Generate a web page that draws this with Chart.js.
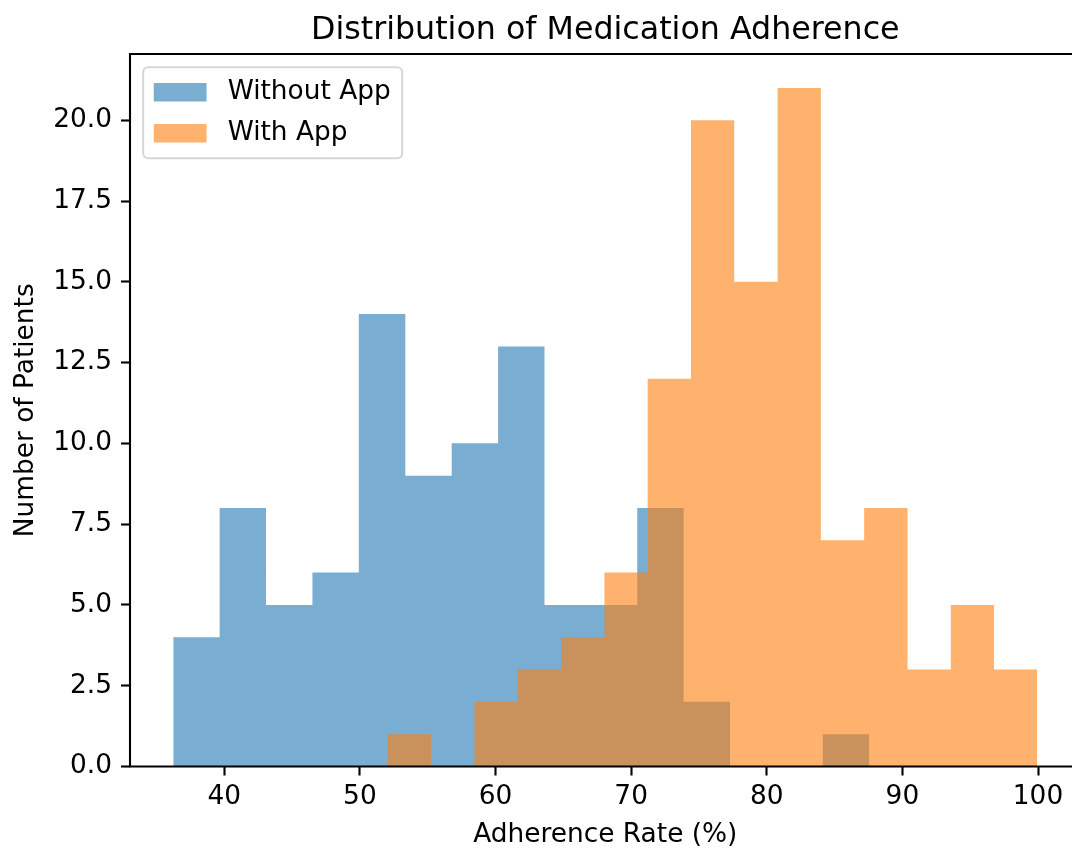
<!DOCTYPE html>
<html>
<head>
<meta charset="utf-8">
<title>Distribution of Medication Adherence</title>
<script src="https://cdn.jsdelivr.net/npm/chart.js@4.4.1/dist/chart.umd.min.js"></script>
<style>
  html, body { margin: 0; padding: 0; background: #ffffff; overflow: hidden; width: 1072px; height: 849px; }
  #wrap { width: 1072px; height: 849px; overflow: hidden; position: relative; }
  #hist { position: absolute; left: 0; top: 0; }
</style>
</head>
<body>
<div id="wrap"><canvas id="hist" width="1100" height="849"></canvas></div>
<script>
// Series labels
const seriesLabels = ["Without App", "With App"];

// Bin edges (adherence %) and counts per bin
const withoutEdges = [36.24, 39.66, 43.08, 46.50, 49.92, 53.35, 56.77, 60.19, 63.61, 67.03, 70.45, 73.87, 77.29, 80.71, 84.13, 87.56];
const withoutCounts = [4, 8, 5, 6, 14, 9, 10, 13, 5, 5, 8, 2, 0, 0, 1];

const withEdges = [52.06, 55.25, 58.45, 61.64, 64.83, 68.03, 71.22, 74.41, 77.60, 80.80, 83.99, 87.18, 90.38, 93.57, 96.76, 99.95];
const withCounts = [1, 0, 2, 3, 4, 6, 12, 20, 15, 21, 7, 8, 3, 5, 3];

// Tick labels
const xTicks = [40, 50, 60, 70, 80, 90, 100];
const yTicks = [0, 2.5, 5, 7.5, 10, 12.5, 15, 17.5, 20];

// Axis limits
const xMin = 33.05;
const xMax = 103.14;
const yMin = 0;
const yMax = 22.05;

const FONT = "'DejaVu Sans', 'Liberation Sans', sans-serif";

//Turn edges + counts into a step outline that the line element fills down to zero
function histPoints(edges, counts) {
  const pts = [{ x: edges[0], y: 0 }];
  counts.forEach((c, i) => {
    pts.push({ x: edges[i], y: c });
  });
  pts.push({ x: edges[edges.length - 1], y: counts[counts.length - 1] });
  pts.push({ x: edges[edges.length - 1], y: 0 });
  return pts;
}

//Title, spines and legend drawn the matplotlib way
const mplLook = {
  id: "mplLook",
  afterDatasetsDraw(chart) {
    const { ctx, chartArea: a } = chart;
    ctx.save();
    ctx.strokeStyle = "#000000";
    ctx.lineWidth = 2.1;
    ctx.beginPath();
    ctx.rect(a.left, a.top, a.right - a.left, a.bottom - a.top);
    ctx.stroke();
    ctx.restore();
  },
  afterDraw(chart) {
    const { ctx, chartArea: a } = chart;
    ctx.save();
    // title
    ctx.fillStyle = "#000000";
    ctx.font = "31.7px " + FONT;
    ctx.textAlign = "center";
    ctx.textBaseline = "alphabetic";
    ctx.fillText("Distribution of Medication Adherence", (a.left + a.right) / 2, 39);

    // legend
    const fs = 26.4;
    const pad = 0.4 * fs;
    const x0 = a.left + 0.5 * fs;
    const y0 = a.top + 0.5 * fs;
    const rowPitch = 41;
    const boxW = 259;
    const boxH = pad * 2 + rowPitch + 29;
    ctx.beginPath();
    ctx.roundRect(x0, y0, boxW, boxH, 5);
    ctx.fillStyle = "rgba(255,255,255,0.8)";
    ctx.fill();
    ctx.strokeStyle = "#d6d6d6";
    ctx.lineWidth = 2;
    ctx.stroke();
    ctx.font = fs + "px " + FONT;
    ctx.textAlign = "left";
    ctx.textBaseline = "middle";
    chart.data.datasets.forEach((ds, i) => {
      const cy = y0 + pad + 14.5 + i * rowPitch;
      ctx.fillStyle = ds.backgroundColor;
      ctx.fillRect(x0 + pad, cy - 9.25, 2 * fs, 0.7 * fs);
      ctx.fillStyle = "#000000";
      ctx.fillText(ds.label, x0 + pad + 2 * fs + 0.8 * fs, cy);
    });
    ctx.restore();
  }
};

const ctx = document.getElementById("hist");
new Chart(ctx, {
  type: "line",
  plugins: [mplLook],
  data: {
    datasets: [
      {
        label: seriesLabels[0],
        data: histPoints(withoutEdges, withoutCounts),
        backgroundColor: "rgba(31,119,180,0.6)",
        borderColor: "transparent",
        borderWidth: 0,
        stepped: true,
        fill: "origin",
        pointRadius: 0,
        pointHoverRadius: 0,
        order: 2
      },
      {
        label: seriesLabels[1],
        data: histPoints(withEdges, withCounts),
        backgroundColor: "rgba(255,127,14,0.6)",
        borderColor: "transparent",
        borderWidth: 0,
        stepped: true,
        fill: "origin",
        pointRadius: 0,
        pointHoverRadius: 0,
        order: 1
      }
    ]
  },
  options: {
    responsive: false,
    animation: false,
    devicePixelRatio: 1,
    events: [],
    layout: { padding: { left: 0, top: 54, right: 19.4, bottom: 0 } },
    plugins: {
      legend: { display: false },
      title: { display: false },
      tooltip: { enabled: false }
    },
    scales: {
      x: {
        type: "linear",
        min: xMin,
        max: xMax,
        afterBuildTicks: (scale) => { scale.ticks = xTicks.map((v) => ({ value: v })); },
        afterFit: (scale) => { scale.height = 82.5; },
        border: { display: false },
        grid: {
          drawOnChartArea: false,
          drawTicks: true,
          tickLength: 9,
          tickWidth: 2.1,
          tickColor: "#000000"
        },
        ticks: {
          autoSkip: false,
          maxRotation: 0,
          padding: 6,
          color: "#000000",
          font: { family: FONT, size: 26.4 },
          callback: (v) => String(v)
        },
        title: {
          display: true,
          text: "Adherence Rate (%)",
          color: "#000000",
          font: { family: FONT, size: 26.4 },
          padding: { top: 0, bottom: -2 }
        }
      },
      y: {
        type: "linear",
        min: yMin,
        max: yMax,
        afterBuildTicks: (scale) => { scale.ticks = yTicks.map((v) => ({ value: v })); },
        afterFit: (scale) => { scale.width = 130; },
        border: { display: false },
        grid: {
          drawOnChartArea: false,
          drawTicks: true,
          tickLength: 9,
          tickWidth: 2.1,
          tickColor: "#000000"
        },
        ticks: {
          autoSkip: false,
          padding: 9,
          color: "#000000",
          font: { family: FONT, size: 26.4 },
          callback: (v) => v.toFixed(1)
        },
        title: {
          display: true,
          text: "Number of Patients",
          color: "#000000",
          font: { family: FONT, size: 26.4 },
          padding: { top: 10, bottom: 0 }
        }
      }
    }
  }
});
</script>
</body>
</html>
